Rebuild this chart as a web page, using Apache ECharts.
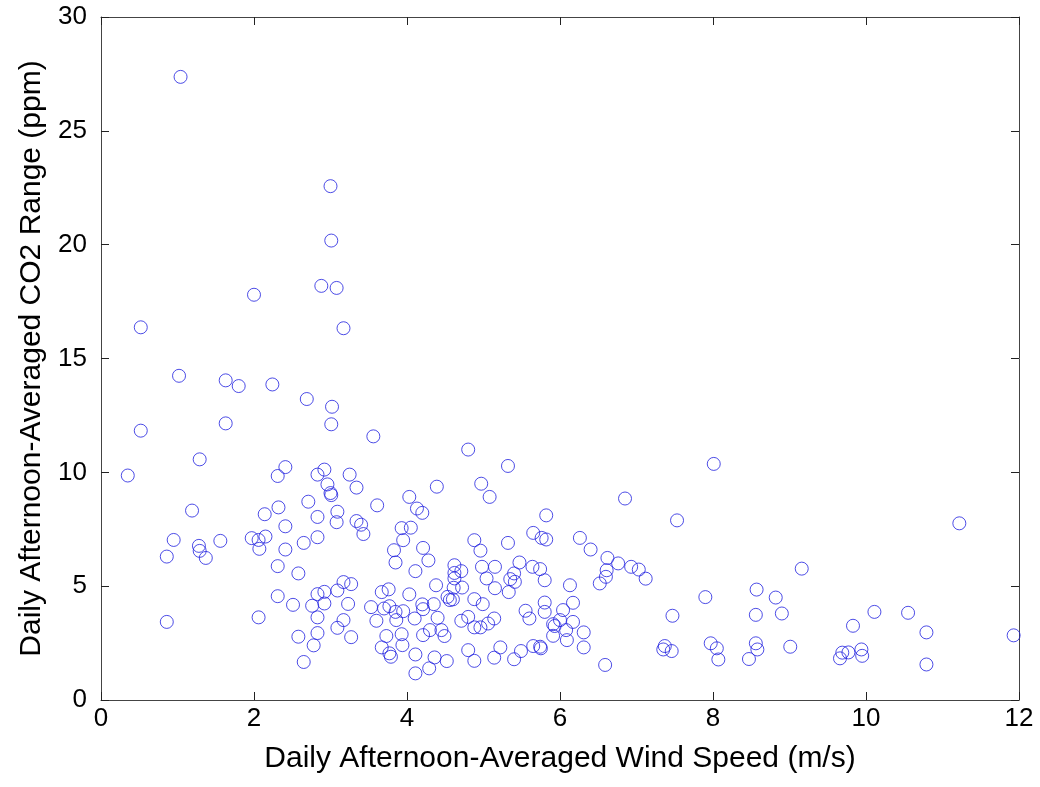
<!DOCTYPE html>
<html>
<head>
<meta charset="utf-8">
<script src="https://cdn.jsdelivr.net/npm/echarts@6/dist/echarts.min.js"></script>
<style>
html,body{margin:0;padding:0;background:#fff;}
#chart{width:1040px;height:787px;}
</style>
</head>
<body>
<div id="chart"></div>
<script>
// Wind speed (m/s)
var windSpeed = [
1.04,3.00,3.01,0.52,2.00,2.88,3.08,3.17,1.02,1.63,
1.80,2.24,2.69,3.02,3.01,0.52,1.63,3.56,1.29,0.35,
2.31,2.41,2.83,2.92,3.25,3.34,2.96,3.00,3.01,3.61,
2.71,3.09,3.08,2.83,2.32,2.14,2.41,3.34,3.40,3.43,
1.19,0.95,0.86,1.28,1.29,1.37,1.56,1.97,2.06,2.15,
2.07,2.41,2.65,2.83,2.31,2.58,2.31,2.51,2.76,2.83,
2.92,2.92,3.09,3.17,3.27,3.23,2.83,3.17,3.09,2.83,
2.58,3.27,2.78,2.65,0.86,2.06,3.53,3.60,3.83,3.85,
3.93,3.67,3.76,3.70,3.77,3.85,3.86,3.73,3.67,3.77,
3.79,4.80,5.32,4.39,4.97,5.08,4.03,4.13,4.20,4.05,
3.95,4.21,4.28,4.11,4.88,4.96,5.32,5.82,5.65,5.76,
5.82,4.62,4.71,4.62,4.62,4.98,5.15,5.47,5.40,5.35,
5.41,5.64,5.74,5.04,4.38,4.61,4.72,5.15,5.33,5.80,
4.03,4.53,4.56,4.60,4.88,4.99,4.35,4.20,4.21,3.95,
4.10,4.40,5.55,5.60,5.80,4.71,4.80,4.88,4.96,5.06,
5.14,4.30,4.21,4.45,4.49,3.93,3.94,4.11,4.36,4.29,
4.52,4.11,4.80,4.88,5.22,5.14,5.49,5.40,5.65,5.74,
5.75,5.80,6.85,7.53,6.26,6.40,6.62,6.61,6.60,6.76,
6.93,7.03,7.12,6.13,6.52,6.17,6.04,6.00,5.91,5.93,
6.17,6.08,6.09,5.91,6.31,6.31,6.59,7.47,7.37,7.35,
7.46,8.01,11.22,9.16,7.90,8.57,8.82,8.56,8.90,10.11,
10.55,9.83,10.79,11.93,10.79,7.97,8.05,8.07,8.56,8.58,
8.47,9.01,9.66,9.69,9.77,9.94,9.95
];
// CO2 range (ppm)
var co2Range = [
27.37,22.57,20.18,16.37,17.80,18.19,18.10,16.33,14.24,14.04,
13.79,13.86,13.22,12.88,12.11,11.83,12.15,11.58,10.57,9.86,
9.84,10.23,9.90,10.12,9.90,9.33,9.47,9.09,9.00,8.55,
8.71,8.27,7.81,8.04,8.46,8.16,7.63,7.86,7.70,7.29,
8.32,7.03,6.30,6.77,6.55,6.24,6.99,7.11,7.03,7.18,
6.64,6.61,6.90,7.15,5.88,5.56,4.56,4.18,4.14,4.65,
4.75,4.24,4.81,5.18,5.09,4.22,3.63,3.51,3.17,2.94,
2.78,2.76,2.40,1.67,3.43,3.63,4.08,3.48,6.58,6.04,
7.55,4.74,4.86,4.02,4.12,3.87,3.51,2.81,2.31,2.05,
1.90,11.00,10.28,9.37,9.50,8.92,8.92,8.41,8.22,7.57,
7.02,6.68,6.13,5.66,7.02,6.56,6.90,8.11,7.34,7.12,
7.05,5.92,5.66,5.58,5.34,5.85,5.85,6.04,5.56,5.31,
5.19,5.85,5.75,5.34,5.04,4.93,4.94,4.91,4.74,5.26,
4.64,4.53,4.39,4.42,4.43,4.21,4.21,4.20,3.99,3.90,
3.58,3.61,3.92,3.58,3.87,3.48,3.65,3.19,3.19,3.36,
3.58,3.07,2.85,3.07,2.81,2.89,2.41,2.00,1.87,1.39,
1.71,1.17,2.19,1.72,2.31,1.86,2.15,1.79,2.37,2.34,
2.27,4.28,8.85,7.89,7.12,6.61,6.24,5.70,5.41,6.00,
5.85,5.73,5.33,5.04,5.12,4.27,3.95,3.51,3.33,3.25,
3.43,3.07,2.63,2.82,2.97,2.31,1.54,3.70,2.37,2.22,
2.15,10.37,7.76,5.77,4.52,4.85,4.50,3.74,3.80,3.87,
3.83,3.26,2.97,2.84,1.56,2.49,2.27,1.78,2.49,2.22,
1.80,2.34,1.83,2.08,2.09,2.22,1.94
];
var xTicks = [0, 2, 4, 6, 8, 10, 12];
var yTicks = [0, 5, 10, 15, 20, 25, 30];
var xTitle = 'Daily Afternoon-Averaged Wind Speed (m/s)';
var yTitle = 'Daily Afternoon-Averaged CO2 Range (ppm)';

var points = windSpeed.map(function (w, i) { return [w, co2Range[i]]; });

var axisColor = '#444';
var font = '"Liberation Sans", Arial, Helvetica, sans-serif';
var chart = echarts.init(document.getElementById('chart'), null, {renderer: 'canvas'});
function axisBase(vals) {
  return {
    type: 'value',
    min: vals[0],
    max: vals[vals.length - 1],
    interval: vals[1] - vals[0],
    splitLine: {show: false},
    axisLine: {show: true, onZero: false, lineStyle: {color: axisColor, width: 1}},
    axisTick: {show: true, inside: true, length: 8, lineStyle: {color: '#222', width: 1}}
  };
}
var xBottom = axisBase(xTicks);
xBottom.position = 'bottom';
xBottom.name = xTitle;
xBottom.nameLocation = 'middle';
xBottom.nameGap = 44;
xBottom.nameTextStyle = {color: '#000', fontSize: 30, fontFamily: font};
xBottom.axisLabel = {color: '#000', fontSize: 26, fontFamily: font, margin: 6};
var xTop = axisBase(xTicks);
xTop.position = 'top';
xTop.axisLabel = {show: false};
var yLeft = axisBase(yTicks);
yLeft.position = 'left';
yLeft.name = yTitle;
yLeft.nameLocation = 'middle';
yLeft.nameGap = 53;
yLeft.nameTextStyle = {color: '#000', fontSize: 30, fontFamily: font};
yLeft.axisLabel = {color: '#000', fontSize: 26, fontFamily: font, margin: 14};
var yRight = axisBase(yTicks);
yRight.position = 'right';
yRight.axisLabel = {show: false};

chart.setOption({
  backgroundColor: '#fff',
  animation: false,
  grid: {left: 101, right: 21, top: 17, bottom: 87, containLabel: false},
  xAxis: [xBottom, xTop],
  yAxis: [yLeft, yRight],
  series: [{
    type: 'scatter',
    xAxisIndex: 0,
    yAxisIndex: 0,
    data: points,
    symbol: 'circle',
    symbolSize: 13,
    itemStyle: {color: 'rgba(0,0,0,0)', borderColor: '#2020e0', borderWidth: 1}
  }]
});
</script>
</body>
</html>
